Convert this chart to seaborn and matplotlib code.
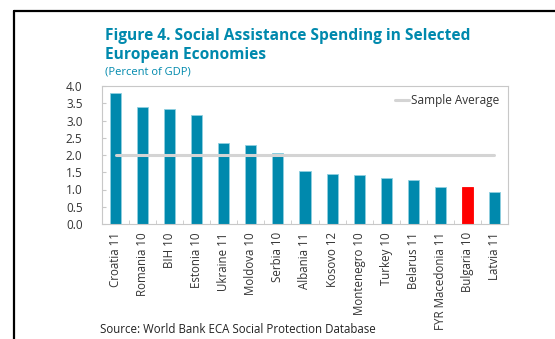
import matplotlib
matplotlib.use("Agg")
import matplotlib.pyplot as plt
from matplotlib.lines import Line2D
import seaborn as sns
import pandas as pd

countries = ["Croatia 11", "Romania 10", "BIH 10", "Estonia 10", "Ukraine 11",
             "Moldova 10", "Serbia 10", "Albania 11", "Kosovo 12", "Montenegro 10",
             "Turkey 10", "Belarus 11", "FYR Macedonia 11", "Bulgaria 10", "Latvia 11"]
spending = [3.79, 3.38, 3.34, 3.17, 2.34, 2.28, 2.07, 1.55, 1.46, 1.43,
            1.33, 1.28, 1.08, 1.08, 0.93]
sample_average = 2.0
highlight = "Bulgaria 10"

yticks = [0.0, 0.5, 1.0, 1.5, 2.0, 2.5, 3.0, 3.5, 4.0]

TEAL = "#0089AD"
RED = "#FF0000"
GRID = "#C8C8C8"
TEXT = "#333333"

sns.set_style("white")
plt.rcParams["font.family"] = ["Open Sans", "DejaVu Sans"]

df = pd.DataFrame({"country": countries, "value": spending})
palette = {c: (RED if c == highlight else TEAL) for c in countries}

fig = plt.figure(figsize=(5.55, 3.39), dpi=100)
ax = fig.add_axes([102 / 555, 1 - 224 / 339, 406 / 555, 138 / 339])

sns.barplot(data=df, x="country", y="value", hue="country", palette=palette,
            order=countries, legend=False, width=0.41, saturation=1,
            edgecolor="#8fd0e0", linewidth=0.6, ax=ax)
for patch, c in zip(ax.patches, countries):
    if c == highlight:
        patch.set_edgecolor(RED)

ax.plot([0, len(countries) - 1], [sample_average, sample_average],
        color="#D4D4D4", lw=2.2, label="Sample Average", zorder=3)

ax.set_xlim(-0.5, len(countries) - 0.5)
ax.set_ylim(0, 4.0)
ax.set_yticks(yticks)
ax.set_yticklabels([f"{v:.1f}" for v in yticks])
ax.set_xlabel("")
ax.set_ylabel("")

ax.set_xticks(range(len(countries)))
ax.set_xticklabels(countries, rotation=90)
ax.set_xticks([i + 0.5 for i in range(len(countries) - 1)], minor=True)
ax.tick_params(axis="x", which="major", length=0, pad=6, labelsize=8.3, labelcolor=TEXT)
ax.tick_params(axis="x", which="minor", direction="in", length=3, color=GRID, bottom=True)
ax.tick_params(axis="y", which="major", direction="in", length=3, color=GRID,
               left=True, labelsize=8.5, labelcolor=TEXT, pad=14)

for s in ax.spines.values():
    s.set_color(GRID)
    s.set_linewidth(0.8)

leg = ax.legend(loc="upper right", frameon=False, fontsize=8.5,
                handlelength=1.2, handletextpad=0.2, borderaxespad=0.3)
for t in leg.get_texts():
    t.set_color(TEXT)

fig.text(105 / 555, 1 - 40 / 339, "Figure 4. Social Assistance Spending in Selected",
         color=TEAL, fontsize=11.2, fontweight="bold", va="baseline", ha="left")
fig.text(105 / 555, 1 - 59 / 339, "European Economies",
         color=TEAL, fontsize=11.2, fontweight="bold", va="baseline", ha="left")
fig.text(105 / 555, 1 - 74 / 339, "(Percent of GDP)",
         color=TEAL, fontsize=8, va="baseline", ha="left")
fig.text(100 / 555, 1 - 333 / 339, "Source: World Bank ECA Social Protection Database",
         color="#222222", fontsize=8.3, va="baseline", ha="left")

# outer frame lines (top and left)
fig.add_artist(Line2D([14 / 555, 1.0], [1 - 11 / 339, 1 - 11 / 339],
                      transform=fig.transFigure, color="black", lw=1.6))
fig.add_artist(Line2D([14 / 555, 14 / 555], [0, 1 - 11 / 339],
                      transform=fig.transFigure, color="black", lw=1.6))

fig.savefig("out.png", dpi=100)
